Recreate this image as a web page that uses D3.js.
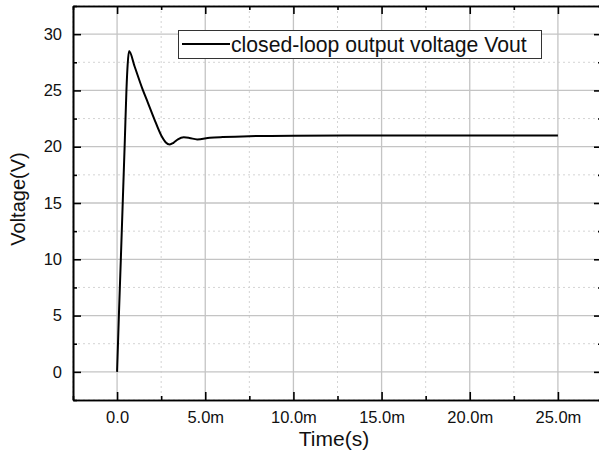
<!DOCTYPE html>
<html>
<head>
<meta charset="UTF-8">
<script src="https://d3js.org/d3.v7.min.js"></script>
<style>
  * { margin: 0; padding: 0; }
  body { background: #fff; font-family: "Liberation Sans", Arial, sans-serif; }
  svg { display: block; }
</style>
</head>
<body>
<div id="chart"></div>
<script>
// time in ms, voltage in V
const timeMs = [0, 0.1, 0.21, 0.44, 0.53, 0.6, 0.68, 1.0, 1.4, 1.75, 2.1, 2.52, 2.75, 2.99, 3.2, 3.45, 3.78, 4.1, 4.54, 5.26, 6, 7.5, 10, 15, 20, 25];
const vout   = [0, 4.9, 9.9, 20.6, 25, 27.3, 28.5, 27.1, 25.3, 23.9, 22.5, 20.95, 20.4, 20.2, 20.35, 20.65, 20.83, 20.78, 20.65, 20.79, 20.86, 20.94, 20.98, 21.0, 21.0, 21.0];

const xMajor = [0, 5, 10, 15, 20, 25];
const xLabels = ["0.0", "5.0m", "10.0m", "15.0m", "20.0m", "25.0m"];
const xMinor = [-2.5, 2.5, 7.5, 12.5, 17.5, 22.5, 27.5];
const yMajor = [0, 5, 10, 15, 20, 25, 30];
const yMinor = [-2.5, 2.5, 7.5, 12.5, 17.5, 22.5, 27.5, 32.5];
const seriesName = "closed-loop output voltage Vout";

const W = 599, H = 453;
const plot = {left: 73, top: 6, right: 602, bottom: 400};

const svg = d3.select("#chart").append("svg")
  .attr("width", W).attr("height", H)
  .style("font-family", "'Liberation Sans', Arial, sans-serif");

const x = d3.scaleLinear().domain([-2.5, 27.5]).range([plot.left, plot.right]);
const y = d3.scaleLinear().domain([-2.5, 32.5]).range([plot.bottom, plot.top]);

// grid
const grid = svg.append("g");
grid.selectAll(".gxm").data(xMinor).enter().append("line")
  .attr("x1", d => x(d)).attr("x2", d => x(d)).attr("y1", plot.top).attr("y2", plot.bottom)
  .attr("stroke", "#d4d4d4").attr("stroke-width", 1).attr("stroke-dasharray", "2,3");
grid.selectAll(".gym").data(yMinor).enter().append("line")
  .attr("y1", d => y(d)).attr("y2", d => y(d)).attr("x1", plot.left).attr("x2", plot.right)
  .attr("stroke", "#d4d4d4").attr("stroke-width", 1).attr("stroke-dasharray", "2,3");
grid.selectAll(".gx").data(xMajor).enter().append("line")
  .attr("x1", d => x(d)).attr("x2", d => x(d)).attr("y1", plot.top).attr("y2", plot.bottom)
  .attr("stroke", "#c4c4c4").attr("stroke-width", 1.3);
grid.selectAll(".gy").data(yMajor).enter().append("line")
  .attr("y1", d => y(d)).attr("y2", d => y(d)).attr("x1", plot.left).attr("x2", plot.right)
  .attr("stroke", "#c4c4c4").attr("stroke-width", 1.3);

// curve
const line = d3.line()
  .x((d, i) => x(timeMs[i]))
  .y(d => y(d))
  .curve(d3.curveMonotoneX);

svg.append("path")
  .datum(vout)
  .attr("d", line)
  .attr("fill", "none")
  .attr("stroke", "#000")
  .attr("stroke-width", 2);

// axes
function styleAxis(g) {
  g.selectAll(".domain").attr("stroke", "#000").attr("stroke-width", 1.6);
  g.selectAll(".tick line").attr("stroke", "#000").attr("stroke-width", 1.6);
  g.selectAll("text").attr("fill", "#111").style("font-size", "16.5px")
    .style("font-family", "'Liberation Sans', Arial, sans-serif");
}

svg.append("g").attr("transform", `translate(0,${plot.bottom})`)
  .call(d3.axisBottom(x).tickValues(xMajor).tickSize(-8).tickSizeOuter(0).tickPadding(11)
    .tickFormat((d, i) => xLabels[i]))
  .call(styleAxis);
svg.append("g").attr("transform", `translate(0,${plot.bottom})`)
  .call(d3.axisBottom(x).tickValues(xMinor).tickSize(-4).tickSizeOuter(0).tickFormat(""))
  .call(styleAxis);

svg.append("g").attr("transform", `translate(0,${plot.top})`)
  .call(d3.axisTop(x).tickValues(xMajor).tickSize(-8).tickSizeOuter(0).tickFormat(""))
  .call(styleAxis);
svg.append("g").attr("transform", `translate(0,${plot.top})`)
  .call(d3.axisTop(x).tickValues(xMinor).tickSize(-4).tickSizeOuter(0).tickFormat(""))
  .call(styleAxis);

svg.append("g").attr("transform", `translate(${plot.left},0)`)
  .call(d3.axisLeft(y).tickValues(yMajor).tickSize(-8).tickSizeOuter(0).tickPadding(11)
    .tickFormat(d3.format("d")))
  .call(styleAxis);
svg.append("g").attr("transform", `translate(${plot.left},0)`)
  .call(d3.axisLeft(y).tickValues(yMinor).tickSize(-4).tickSizeOuter(0).tickFormat(""))
  .call(styleAxis);

svg.append("g").attr("transform", `translate(${plot.right},0)`)
  .call(d3.axisRight(y).tickValues(yMajor).tickSize(-8).tickSizeOuter(0).tickFormat(""))
  .call(styleAxis);
svg.append("g").attr("transform", `translate(${plot.right},0)`)
  .call(d3.axisRight(y).tickValues(yMinor).tickSize(-4).tickSizeOuter(0).tickFormat(""))
  .call(styleAxis);

// axis titles
svg.append("text")
  .attr("x", 334).attr("y", 446)
  .attr("text-anchor", "middle")
  .style("font-size", "21px").attr("fill", "#111")
  .text("Time(s)");

svg.append("text")
  .attr("transform", "translate(25,199) rotate(-90)")
  .attr("text-anchor", "middle")
  .style("font-size", "20px").attr("fill", "#111")
  .text("Voltage(V)");

// legend
const leg = svg.append("g");
leg.append("rect")
  .attr("x", 178.5).attr("y", 30.5).attr("width", 363).attr("height", 28)
  .attr("fill", "#fff").attr("stroke", "#333").attr("stroke-width", 1);
leg.append("line")
  .attr("x1", 182).attr("x2", 230).attr("y1", 44).attr("y2", 44)
  .attr("stroke", "#000").attr("stroke-width", 2);
leg.append("text")
  .attr("x", 231).attr("y", 51.5)
  .style("font-size", "21.2px").attr("fill", "#111")
  .text(seriesName);
</script>
</body>
</html>
